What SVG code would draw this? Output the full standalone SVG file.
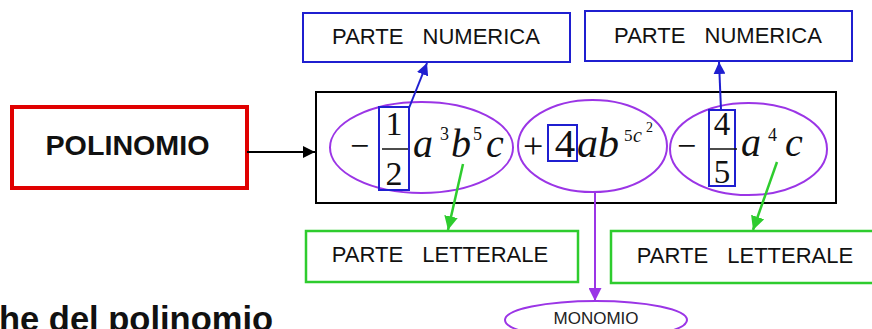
<svg xmlns="http://www.w3.org/2000/svg" width="872" height="329" viewBox="0 0 872 329">
<style>
.lbl{font-family:"Liberation Sans",Arial,sans-serif;font-size:22px;fill:#111;text-anchor:middle;word-spacing:13px}
.m{font-family:"Liberation Serif","Times New Roman",serif;fill:#111}
.mi{font-style:italic}
.blue{fill:none;stroke:#1f1fd0;stroke-width:2}
.green{fill:none;stroke:#2ecc2e;stroke-width:2.5}
.purple{fill:none;stroke:#9b35e6;stroke-width:2}
</style>
<defs>
<marker id="ab" viewBox="0 0 10 10" refX="10" refY="5" markerWidth="6" markerHeight="6" orient="auto" markerUnits="strokeWidth"><path d="M0,0 L10,5 L0,10 z" fill="#1f1fd0"/></marker>
<marker id="ag" viewBox="0 0 10 10" refX="10" refY="5" markerWidth="5.5" markerHeight="5.5" orient="auto" markerUnits="strokeWidth"><path d="M0,0 L10,5 L0,10 z" fill="#2ecc2e"/></marker>
<marker id="ap" viewBox="0 0 10 10" refX="10" refY="5" markerWidth="6.5" markerHeight="6.5" orient="auto" markerUnits="strokeWidth"><path d="M0,0 L10,5 L0,10 z" fill="#9b35e6"/></marker>
<marker id="ak" viewBox="0 0 10 10" refX="10" refY="5" markerWidth="7" markerHeight="6" orient="auto" markerUnits="strokeWidth"><path d="M0,0 L10,5 L0,10 z" fill="#000"/></marker>
</defs>
<rect width="872" height="329" fill="#fff"/>

<g id="polinomio">
<rect x="12" y="107" width="235" height="81" fill="#fff" stroke="#e00000" stroke-width="4"/>
<text x="127.5" y="155" font-family="Liberation Sans,Arial,sans-serif" font-weight="bold" font-size="27" fill="#111" text-anchor="middle" textLength="164" lengthAdjust="spacingAndGlyphs">POLINOMIO</text>
</g>

<g id="expression">
<rect x="316" y="92" width="520" height="111" fill="none" stroke="#000" stroke-width="2"/>
</g>

<g id="monomio1">
<ellipse cx="421.5" cy="147.5" rx="91.5" ry="45.5" class="purple"/>
<text class="m" x="350" y="157" font-size="34">−</text>
<rect x="379" y="107" width="30" height="83" class="blue"/>
<text class="m" x="394" y="135" font-size="34" text-anchor="middle">1</text>
<line x1="382" y1="149" x2="408" y2="149" stroke="#111" stroke-width="1.5"/>
<text class="m" x="394" y="185" font-size="34" text-anchor="middle">2</text>
<text class="m mi" x="413" y="157" font-size="40">a</text>
<text class="m" x="440" y="140" font-size="18">3</text>
<text class="m mi" x="451" y="157" font-size="40">b</text>
<text class="m" x="473" y="140" font-size="18">5</text>
<text class="m mi" x="486" y="157" font-size="40">c</text>
</g>

<g id="monomio2">
<ellipse cx="592.5" cy="146" rx="74.5" ry="46" class="purple"/>
<text class="m" x="523" y="158" font-size="36">+</text>
<rect x="548" y="125" width="29" height="36" class="blue"/>
<text class="m" x="565" y="157" font-size="41" text-anchor="middle">4</text>
<text class="m mi" x="577" y="157" font-size="42">ab</text>
<text class="m" x="624" y="141" font-size="17">5</text>
<text class="m mi" x="633" y="142" font-size="20">c</text>
<text class="m" x="646" y="132" font-size="14">2</text>
</g>

<g id="monomio3">
<ellipse cx="748.5" cy="149" rx="78.5" ry="46" class="purple"/>
<text class="m" x="677" y="157" font-size="34">−</text>
<rect x="709" y="110" width="26" height="76" class="blue"/>
<text class="m" x="722" y="135" font-size="33" text-anchor="middle">4</text>
<line x1="710" y1="149" x2="737" y2="149" stroke="#111" stroke-width="1.5"/>
<text class="m" x="722" y="183" font-size="33" text-anchor="middle">5</text>
<text class="m mi" x="741" y="156" font-size="40">a</text>
<text class="m" x="768" y="141" font-size="18">4</text>
<text class="m mi" x="785" y="156" font-size="40">c</text>
</g>

<g id="num1">
<rect x="303" y="13" width="267" height="49" fill="#fff" stroke="#1f1fd0" stroke-width="2"/>
<text class="lbl" x="436" y="44">PARTE NUMERICA</text>
</g>
<g id="num2">
<rect x="585" y="11" width="267" height="50" fill="#fff" stroke="#1f1fd0" stroke-width="2"/>
<text class="lbl" x="718" y="43">PARTE NUMERICA</text>
</g>
<g id="lett1">
<rect x="306" y="231" width="272" height="51" fill="#fff" stroke="#2ecc2e" stroke-width="2.5"/>
<text class="lbl" x="440" y="262">PARTE LETTERALE</text>
</g>
<g id="lett2">
<rect x="611" y="231" width="270" height="52" fill="#fff" stroke="#2ecc2e" stroke-width="2.5"/>
<text class="lbl" x="745" y="263">PARTE LETTERALE</text>
</g>
<g id="monomio">
<ellipse cx="596" cy="320" rx="91" ry="19" class="purple"/>
<text x="596" y="324" font-family="Liberation Sans,Arial,sans-serif" font-size="17" fill="#222" text-anchor="middle">MONOMIO</text>
</g>

<g id="caption">
<text x="-1" y="331" font-family="Liberation Sans,Arial,sans-serif" font-weight="bold" font-size="34.5" fill="#111">he del polinomio</text>
</g>

<g id="connectors">
<line x1="247" y1="152" x2="315" y2="152" stroke="#000" stroke-width="2" marker-end="url(#ak)"/>
<line x1="409" y1="108" x2="427" y2="63" class="blue" marker-end="url(#ab)"/>
<line x1="721" y1="110" x2="719" y2="62" class="blue" marker-end="url(#ab)"/>
<line x1="463" y1="164" x2="448" y2="230" class="green" marker-end="url(#ag)"/>
<line x1="777" y1="162" x2="753" y2="230" class="green" marker-end="url(#ag)"/>
<line x1="595" y1="192" x2="595" y2="301" class="purple" marker-end="url(#ap)"/>
</g>
</svg>
